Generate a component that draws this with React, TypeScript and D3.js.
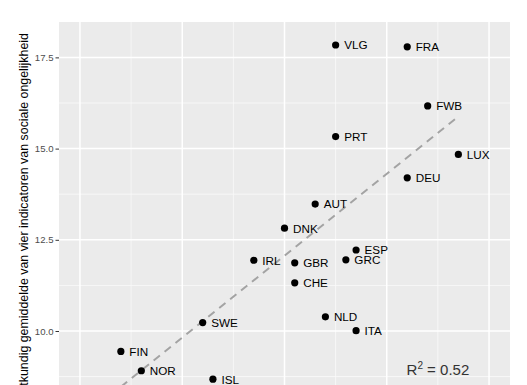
import React, { useEffect, useRef } from 'react';
import * as d3 from 'd3';

// Countries / regions with their score on the (hidden) x-axis and on the inequality index
const countries = ['VLG', 'FRA', 'FWB', 'PRT', 'LUX', 'DEU', 'AUT', 'DNK', 'ESP', 'GRC', 'IRL', 'GBR', 'CHE', 'NLD', 'ITA', 'SWE', 'FIN', 'NOR', 'ISL'];
const xValues = [0.5, 1.2, 1.4, 0.5, 1.7, 1.2, 0.3, 0.0, 0.7, 0.6, -0.3, 0.1, 0.1, 0.4, 0.7, -0.8, -1.6, -1.4, -0.7];
const yValues = [17.84, 17.79, 16.17, 15.33, 14.84, 14.2, 13.48, 12.82, 12.22, 11.95, 11.94, 11.87, 11.32, 10.39, 10.01, 10.23, 9.44, 8.91, 8.68];

// regression line end points
const fitX = [-1.6, 1.7];
const fitY = [8.47, 15.88];

const yMajor = [10, 12.5, 15, 17.5];
const yMinor = [8.75, 11.25, 13.75, 16.25];
const xMajor = [-2, -1, 0, 1, 2];
const xMinor = [-1.5, -0.5, 0.5, 1.5];

const yTitle = 'tkundig gemiddelde van vier indicatoren van sociale ongelijkheid';
const rSquared = '0.52';

const W = 527;
const H = 385;

export default function App() {
  const svgRef = useRef<SVGSVGElement>(null);

  useEffect(() => {
    if (!svgRef.current) return;
    const svg = d3.select(svgRef.current);
    svg.selectAll('*').remove();

    const panel = { left: 59, right: 510, top: 22, bottom: H };

    const x = d3.scaleLinear().domain([-2.205, 2.205]).range([panel.left, panel.right]);
    const y = d3.scaleLinear().domain([8.52, 18.47]).range([panel.bottom, panel.top]);

    svg.append('rect')
      .attr('width', W).attr('height', H).attr('fill', '#ffffff');

    // panel
    svg.append('rect')
      .attr('x', panel.left).attr('y', panel.top)
      .attr('width', panel.right - panel.left)
      .attr('height', panel.bottom - panel.top + 10)
      .attr('fill', '#ebebeb');

    const grid = svg.append('g');
    grid.selectAll('line.ymin').data(yMinor).join('line')
      .attr('x1', panel.left).attr('x2', panel.right)
      .attr('y1', d => y(d)).attr('y2', d => y(d))
      .attr('stroke', '#fafafa').attr('stroke-width', 0.8);
    grid.selectAll('line.xmin').data(xMinor).join('line')
      .attr('y1', panel.top).attr('y2', panel.bottom)
      .attr('x1', d => x(d)).attr('x2', d => x(d))
      .attr('stroke', '#fafafa').attr('stroke-width', 0.8);
    grid.selectAll('line.ymaj').data(yMajor).join('line')
      .attr('x1', panel.left).attr('x2', panel.right)
      .attr('y1', d => y(d)).attr('y2', d => y(d))
      .attr('stroke', '#ffffff').attr('stroke-width', 1.5);
    grid.selectAll('line.xmaj').data(xMajor).join('line')
      .attr('y1', panel.top).attr('y2', panel.bottom)
      .attr('x1', d => x(d)).attr('x2', d => x(d))
      .attr('stroke', '#ffffff').attr('stroke-width', 1.5);

    // y axis
    const yAxis = svg.append('g')
      .attr('transform', `translate(${panel.left},0)`)
      .call(d3.axisLeft(y).tickValues(yMajor).tickFormat(d3.format('.1f')).tickSize(3.5).tickPadding(2));
    yAxis.select('.domain').remove();
    yAxis.selectAll('line').attr('stroke', '#333333');
    yAxis.selectAll('text')
      .attr('fill', '#4d4d4d')
      .attr('font-size', '9.6px')
      .attr('font-family', 'Liberation Sans, Arial, sans-serif');

    svg.append('text')
      .attr('transform', `translate(28,33) rotate(-90)`)
      .attr('text-anchor', 'end')
      .attr('font-size', '12.4px')
      .attr('font-family', 'Liberation Sans, Arial, sans-serif')
      .attr('fill', '#000000')
      .text(yTitle);

    // regression line
    const line = d3.line<number>()
      .x((d) => x(d))
      .y((_, i) => y(fitY[i]));
    svg.append('path')
      .datum(fitX)
      .attr('d', line)
      .attr('fill', 'none')
      .attr('stroke', '#a3a3a3')
      .attr('stroke-width', 2)
      .attr('stroke-dasharray', '8,6');

    // points and labels
    const pts = svg.append('g');
    countries.forEach((c, i) => {
      pts.append('circle')
        .attr('cx', x(xValues[i])).attr('cy', y(yValues[i]))
        .attr('r', 3.6).attr('fill', '#000000');
      pts.append('text')
        .attr('x', x(xValues[i]) + 8.5).attr('y', y(yValues[i]))
        .attr('dy', '0.38em')
        .attr('font-size', '11.7px')
        .attr('font-family', 'Liberation Sans, Arial, sans-serif')
        .attr('fill', '#000000')
        .text(c);
    });

    // R squared annotation
    const ann = svg.append('text')
      .attr('x', x(1.5)).attr('y', 375)
      .attr('text-anchor', 'middle')
      .attr('font-size', '15px')
      .attr('font-family', 'Liberation Sans, Arial, sans-serif')
      .attr('fill', '#333333');
    ann.append('tspan').text('R');
    ann.append('tspan').attr('dy', -6.5).attr('font-size', '10px').text('2');
    ann.append('tspan').attr('dy', 6.5).text(` = ${rSquared}`);
  }, []);

  return (
    <svg
      ref={svgRef}
      width={W}
      height={H}
      style={{ position: 'absolute', left: 0, top: 0, overflow: 'hidden' }}
    />
  );
}
